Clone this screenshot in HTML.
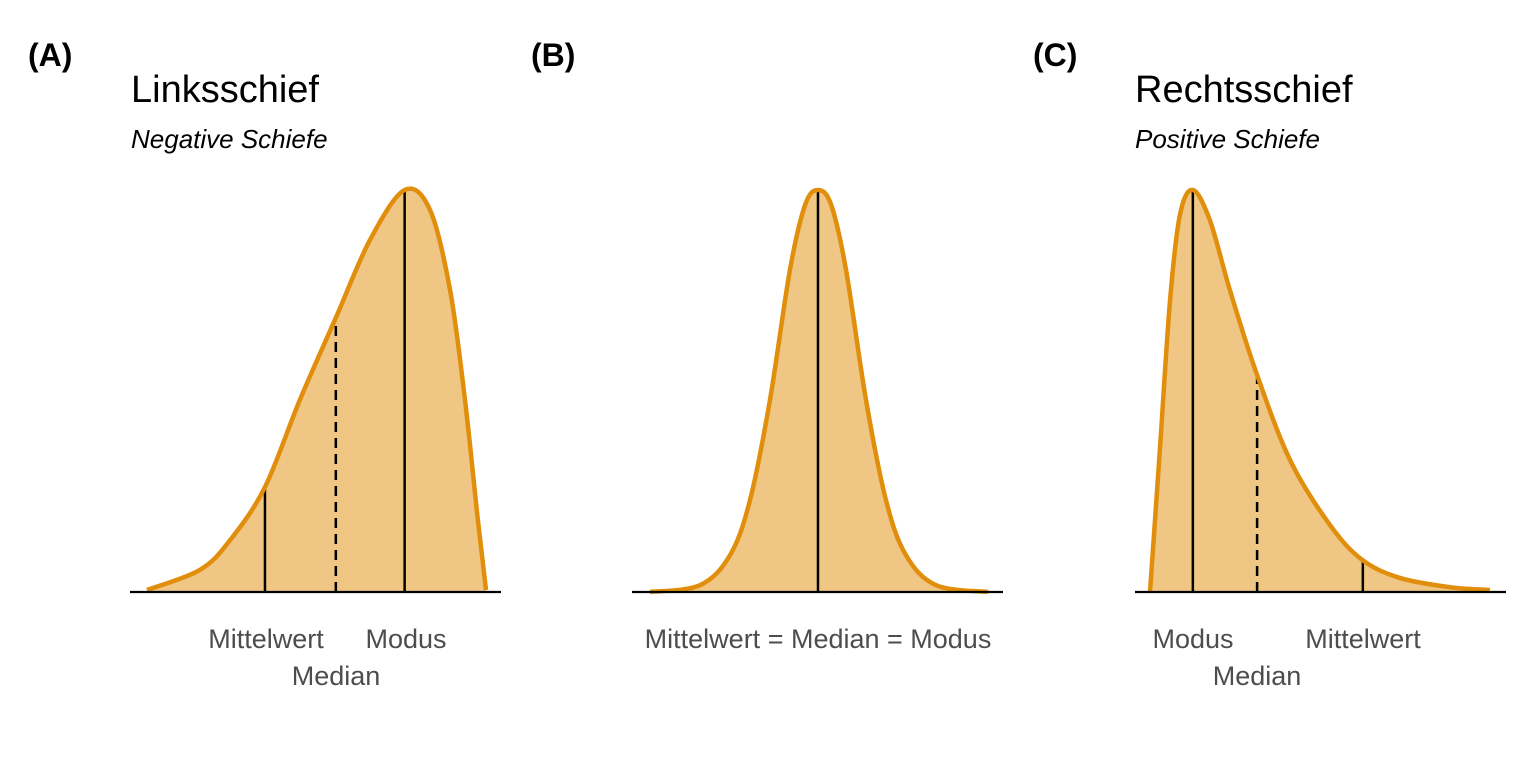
<!DOCTYPE html>
<html><head><meta charset="utf-8"><style>
html,body{margin:0;padding:0;background:#fff;}
svg{display:block;font-family:"Liberation Sans",Arial,sans-serif;}
</style></head><body>
<svg id="chart" width="1536" height="768"></svg>
<script>
// Density readings (x: 0-100 across the curve, y: 0-100 relative density)
const leftX = [0,15.6,24.5,34.8,45.1,55.7,65.8,76,83.5,89.4,93.8,97.6,100];
const leftY = [0.5,5.5,12.9,26.1,47.8,68.2,87.6,100,95,75.1,47.8,17.9,0.5];
const symX = [0,14.8,23.7,29.6,35.5,41.4,45.9,49.7,53.6,58,63.9,69.8,75.7,84.6,100];
const symY = [0,1.7,9.2,22.9,47.8,80.1,96.3,100,96.3,80.1,47.8,22.9,9.2,1.7,0];
const rightX = [0,2.9,5.9,8.8,12.6,17.6,23.5,31.2,41.2,52.9,62.4,73.5,88.2,100];
const rightY = [0,35.3,72.6,93.8,100,92.5,75.1,54.7,32.8,16.7,8,3.5,1.2,0.5];
// Markers: [x, height, dashed]
const leftMarks = [[34.8,26.1,0],[55.7,68.2,1],[76,100,0]];
const symMarks = [[49.7,100,0]];
const rightMarks = [[12.6,100,0],[31.5,54,1],[62.6,8,0]];

const NS="http://www.w3.org/2000/svg";
const svg=document.getElementById('chart');
function mk(tag,attrs,parent){const e=document.createElementNS(NS,tag);for(const k in attrs)e.setAttribute(k,attrs[k]);(parent||svg).appendChild(e);return e;}
function txt(x,y,s,size,opts,name){const t=mk('text',Object.assign({x:x,y:y,'font-size':size,fill:'#000'},opts||{}));t.textContent=s;


return t;}
const base=592, yScale=d=>base-d*4.02;
function path(pts){let d=`M${pts[0][0]},${pts[0][1]}`;for(let i=0;i<pts.length-1;i++){const p0=pts[Math.max(i-1,0)],p1=pts[i],p2=pts[i+1],p3=pts[Math.min(i+2,pts.length-1)];
d+=` C${p1[0]+(p2[0]-p0[0])/6},${p1[1]+(p2[1]-p0[1])/6} ${p2[0]-(p3[0]-p1[0])/6},${p2[1]-(p3[1]-p1[1])/6} ${p2[0]},${p2[1]}`;}return d;}
function panel(name,x0,w,ax0,ax1,xs,ys,marks){
  const xScale=d=>x0+d/100*w;
  const g=mk('g',{});
  
  
  const pts=xs.map((x,i)=>[xScale(x),yScale(ys[i])]);
  const line=path(pts);
  const area=mk('path',{d:line+` L${pts[pts.length-1][0]},${base} L${pts[0][0]},${base} Z`,fill:'#F0C684',stroke:'none'},g);
  
  
  marks.forEach(m=>{const l=mk('line',{x1:xScale(m[0]),x2:xScale(m[0]),y1:base,y2:yScale(m[1]),stroke:'#000','stroke-width':2.5,'stroke-dasharray':m[2]?'10,6':'none'},g);
    
    });
  const c=mk('path',{d:line,fill:'none',stroke:'#E08E0B','stroke-width':4.5},g);
  
  
  const ax=mk('line',{x1:ax0,x2:ax1,y1:base,y2:base,stroke:'#000','stroke-width':2.2},g);
  
  
}
panel('panel-a',147,339,130,501,leftX,leftY,leftMarks);
panel('panel-b',650,338,632,1003,symX,symY,symMarks);
panel('panel-c',1150,340,1135,1506,rightX,rightY,rightMarks);

const bold={'font-weight':'bold'}, mid={'text-anchor':'middle',fill:'#4d4d4d'};
txt(28,66,'(A)',32,bold,'panel-a-tag');
txt(531,66,'(B)',32,bold,'panel-b-tag');
txt(1033,66,'(C)',32,bold,'panel-c-tag');
txt(131,102,'Linksschief',38,{},'panel-a-title');
txt(131,148,'Negative Schiefe',26,{'font-style':'italic'},'panel-a-subtitle');
txt(1135,102,'Rechtsschief',38,{},'panel-c-title');
txt(1135,148,'Positive Schiefe',26,{'font-style':'italic'},'panel-c-subtitle');
txt(266,648,'Mittelwert',27,mid,'label-mittelwert-a');
txt(406,648,'Modus',27,mid,'label-modus-a');
txt(336,685,'Median',27,mid,'label-median-a');
txt(818,648,'Mittelwert = Median = Modus',27,mid,'label-equal-b');
txt(1193,648,'Modus',27,mid,'label-modus-c');
txt(1363,648,'Mittelwert',27,mid,'label-mittelwert-c');
txt(1257,685,'Median',27,mid,'label-median-c');
</script>
</body></html>
